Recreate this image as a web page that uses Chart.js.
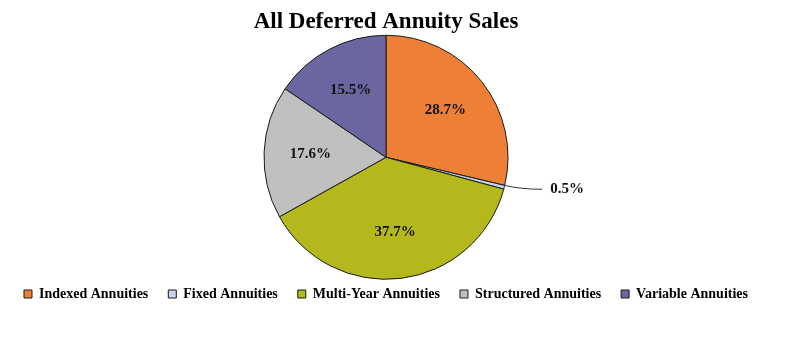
<!DOCTYPE html>
<html>
<head>
<meta charset="utf-8">
<script src="https://cdn.jsdelivr.net/npm/chart.js@4/dist/chart.umd.min.js"></script>
<style>
  html, body { margin: 0; padding: 0; background: #fff; }
  #wrap { width: 800px; height: 338px; position: relative; }
</style>
</head>
<body>
<div id="wrap"><canvas id="chart"></canvas></div>
<script>
const categories = ["Indexed Annuities", "Fixed Annuities", "Multi-Year Annuities", "Structured Annuities", "Variable Annuities"];
const shares = [28.7, 0.5, 37.7, 17.6, 15.5];
const sliceColors = ["#EE7F36", "#C5D5EA", "#B4B81C", "#C0C0C0", "#6966A0"];

const serif = "'Liberation Serif', 'Times New Roman', serif";

// percent labels, small slices get a leader line
const sliceLabels = {
  id: "sliceLabels",
  afterDatasetsDraw(chart) {
    const ctx = chart.ctx;
    const meta = chart.getDatasetMeta(0);
    ctx.save();
    ctx.font = "bold 15px " + serif;
    ctx.fillStyle = "#111";
    ctx.textBaseline = "middle";
    meta.data.forEach((arc, i) => {
      const p = arc.getProps(["x", "y", "startAngle", "endAngle", "outerRadius"], true);
      const mid = (p.startAngle + p.endAngle) / 2;
      const text = shares[i].toFixed(1) + "%";
      if (shares[i] < 3) {
        const ex = p.x + p.outerRadius * Math.cos(mid);
        const ey = p.y + p.outerRadius * Math.sin(mid);
        ctx.strokeStyle = "#333";
        ctx.lineWidth = 1;
        ctx.beginPath();
        ctx.moveTo(ex, ey - 2);
        ctx.quadraticCurveTo(ex + 16, ey + 2, ex + 38, ey + 2);
        ctx.stroke();
        ctx.textAlign = "left";
        ctx.fillText(text, ex + 46, ey + 2);
      } else {
        const r = p.outerRadius * 0.62;
        ctx.textAlign = "center";
        ctx.fillText(text, p.x + r * Math.cos(mid), p.y + r * Math.sin(mid));
      }
    });
    ctx.restore();
  }
};

new Chart(document.getElementById("chart"), {
  type: "pie",
  data: {
    labels: categories,
    datasets: [{
      data: shares,
      backgroundColor: sliceColors,
      borderColor: "#1a1a1a",
      borderWidth: 1,
      radius: 122,
      clip: false
    }]
  },
  options: {
    responsive: true,
    maintainAspectRatio: false,
    animation: false,
    layout: { padding: { left: 0, right: 28, top: 0, bottom: 27 } },
    plugins: {
      title: {
        display: true,
        text: "All Deferred Annuity Sales",
        color: "#000",
        font: { family: serif, size: 23, weight: "bold" },
        padding: { top: 8, bottom: 12 }
      },
      legend: {
        position: "bottom",
        labels: {
          color: "#000",
          font: { family: serif, size: 14, weight: "bold" },
          boxWidth: 8,
          boxHeight: 8,
          padding: 20
        }
      },
      tooltip: { enabled: false }
    }
  },
  plugins: [sliceLabels]
});
</script>
</body>
</html>
